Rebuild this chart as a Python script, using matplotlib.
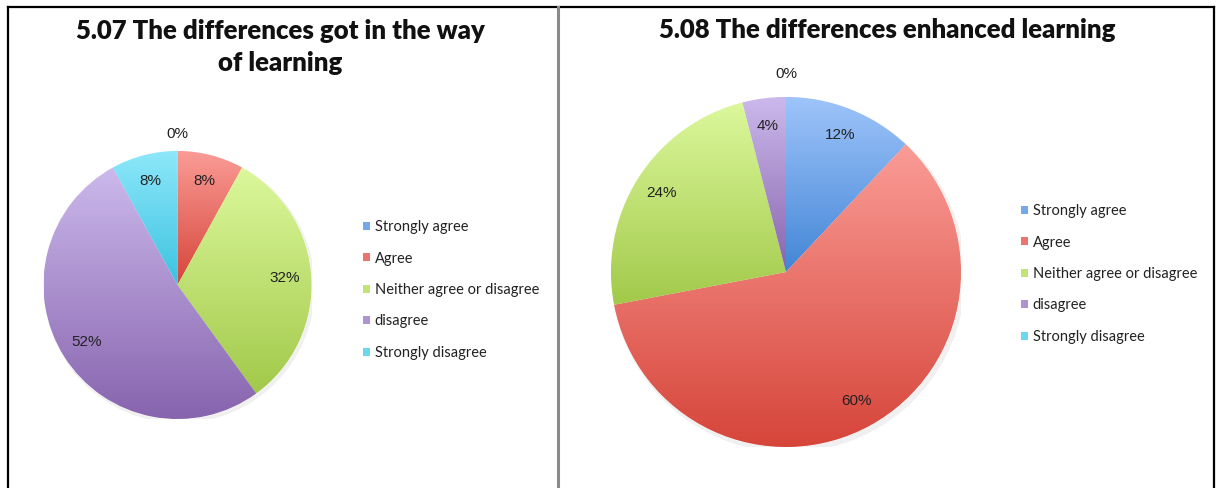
import matplotlib
matplotlib.use('Agg')
import matplotlib.pyplot as plt
import numpy as np
from matplotlib.colors import LinearSegmentedColormap, to_rgb
from matplotlib.patches import Rectangle, Circle
from matplotlib.lines import Line2D

# Data
categories = ['Strongly agree', 'Agree', 'Neither agree or disagree', 'disagree', 'Strongly disagree']
vals_507 = [0, 8, 32, 52, 8]
vals_508 = [12, 60, 24, 4, 0]
title_507 = '5.07 The differences got in the way\nof learning'
title_508 = '5.08 The differences enhanced learning'

# Excel-ish gradient colours (top light -> bottom dark)
light = ['#9ec4fa', '#fa9c96', '#dcf89c', '#ccb9ec', '#8ee8fa']
dark = ['#4386d6', '#d6453a', '#a2c94a', '#8764ae', '#3cc2e0']

W, H = 1216, 488
fig = plt.figure(figsize=(W / 100, H / 100), dpi=100)
fig.patch.set_facecolor('white')


def mix(c1, c2, t=0.5):
    a = np.array(to_rgb(c1)); b = np.array(to_rgb(c2))
    return tuple(a + (b - a) * t)


mid = [mix(l, d, 0.45) for l, d in zip(light, dark)]


def draw_pie(cx, cy, r, vals, pct_dist):
    # axes placed in pixel coords (from top-left)
    ax = fig.add_axes([(cx - r) / W, (H - cy - r) / H, 2 * r / W, 2 * r / H])
    # faint drop shadow
    ax.add_patch(Circle((0.015, -0.02), 1.01, facecolor='#000000', alpha=0.06,
                        edgecolor='none', zorder=0.5))
    wedges, _ = ax.pie(vals, startangle=90, counterclock=False, colors=mid,
                       radius=1, wedgeprops=dict(linewidth=0.6, edgecolor='white'))
    grad = np.linspace(0, 1, 256).reshape(-1, 1)
    for i, w in enumerate(wedges):
        if vals[i] == 0:
            continue
        bb = w.get_path().get_extents()
        cmap = LinearSegmentedColormap.from_list('g%d' % i, [light[i], dark[i]])
        im = ax.imshow(grad, cmap=cmap, extent=(bb.x0, bb.x1, bb.y0, bb.y1),
                       origin='upper', aspect='auto', zorder=1.5)
        im.set_clip_path(w)
    for i, w in enumerate(wedges):
        ang = np.deg2rad((w.theta1 + w.theta2) / 2)
        d = 1.13 if vals[i] == 0 else pct_dist
        ax.text(d * np.cos(ang), d * np.sin(ang), '%d%%' % vals[i],
                ha='center', va='center', fontsize=11, color='#222222',
                family='Liberation Sans', zorder=3)
    ax.set_xlim(-1, 1)
    ax.set_ylim(-1, 1)
    ax.axis('off')
    return ax


draw_pie(177.5, 285, 134, vals_507, 0.80)
draw_pie(786, 272, 175, vals_508, 0.84)

# titles
fig.text(280 / W, 1 - 47 / H, title_507, ha='center', va='center', fontsize=18.5,
         fontweight='heavy', family='Lato', linespacing=1.38, color='#111111')
fig.text(887 / W, 1 - 30 / H, title_508, ha='center', va='center', fontsize=18.5,
         fontweight='heavy', family='Lato', color='#111111')

# legends
handles = [Rectangle((0, 0), 1, 1, facecolor=c, edgecolor='none') for c in mid]
for x0, y0 in [(363, 220), (1021, 204)]:
    fig.legend(handles, categories, loc='upper left',
               bbox_to_anchor=(x0 / W, 1 - y0 / H), frameon=False,
               prop={'family': 'Lato', 'size': 10.5}, handlelength=0.5,
               handleheight=0.5, handletextpad=0.3, labelspacing=1.2,
               borderaxespad=0, borderpad=0, labelcolor='#222222')

# frame lines
fig.add_artist(Line2D([8 / W, 1214 / W], [1 - 7 / H, 1 - 7 / H], color='black', lw=1.6))
fig.add_artist(Line2D([8 / W, 8 / W], [0, 1 - 7 / H], color='black', lw=1.6))
fig.add_artist(Line2D([1214 / W, 1214 / W], [0, 1 - 7 / H], color='black', lw=1.6))
fig.add_artist(Line2D([558 / W, 558 / W], [0, 1 - 7 / H], color='#8a8a8a', lw=2.2))

fig.savefig('out.png', dpi=100)
